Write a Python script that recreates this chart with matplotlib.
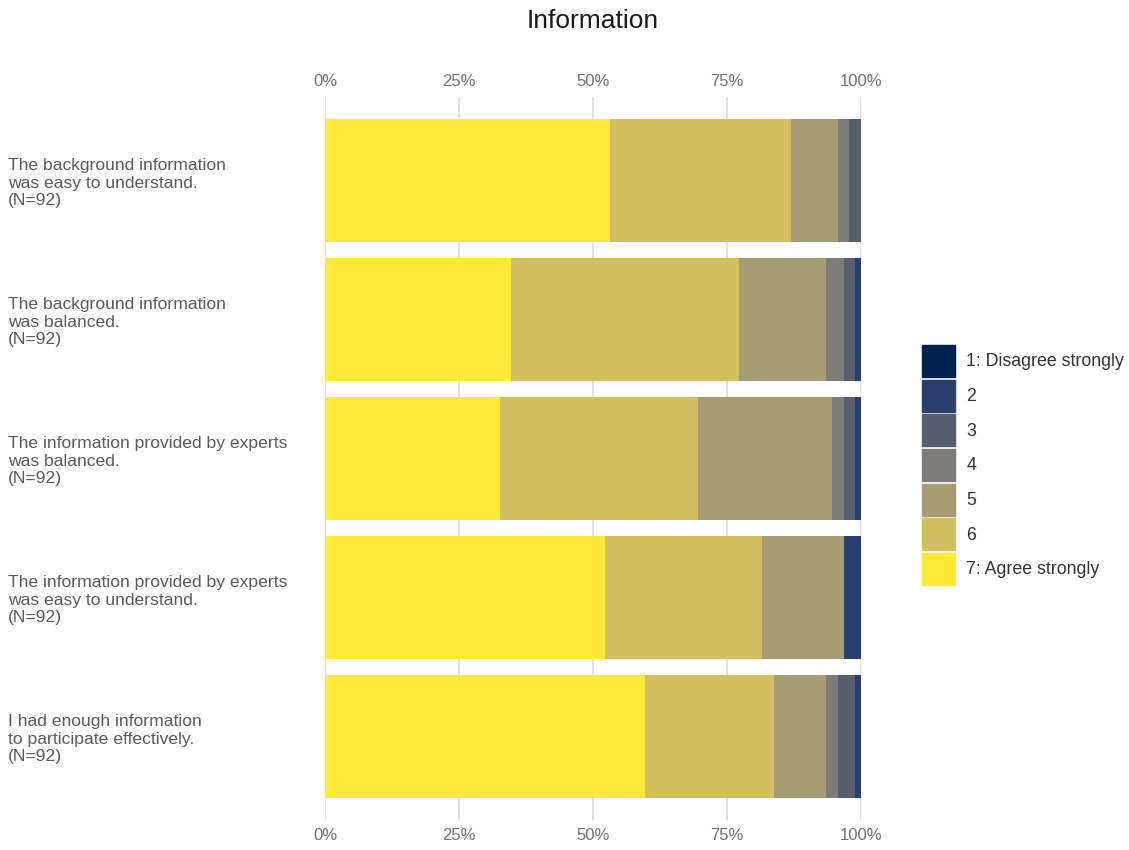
import matplotlib.pyplot as plt
import matplotlib.patches as mpatches
import numpy as np

plt.rcParams['font.family'] = ['Liberation Sans', 'DejaVu Sans']

questions = ["The background information\nwas easy to understand.\n(N=92)",
             "The background information\nwas balanced.\n(N=92)",
             "The information provided by experts\nwas balanced.\n(N=92)",
             "The information provided by experts\nwas easy to understand.\n(N=92)",
             "I had enough information\nto participate effectively.\n(N=92)"]
levels = ["1: Disagree strongly", "2", "3", "4", "5", "6", "7: Agree strongly"]

# counts per answer level, 1 .. 7, for each question
counts = [[0, 0, 2, 2, 8, 31, 49],
          [0, 1, 2, 3, 15, 39, 32],
          [0, 1, 2, 2, 23, 34, 30],
          [0, 3, 0, 0, 14, 27, 48],
          [0, 1, 3, 2, 9, 22, 55]]

ticks = [0, 25, 50, 75, 100]
tick_labels = ["0%", "25%", "50%", "75%", "100%"]

cols = plt.cm.cividis(np.linspace(0, 1, 7))

fig = plt.figure(figsize=(11.29, 8.5), dpi=100)
ax = fig.add_axes([325/1129, 30/850, 536/1129, 723/850])

cnt = np.array(counts, dtype=float)
pct = cnt / cnt.sum(axis=1, keepdims=True) * 100
ypos = np.arange(len(questions))

# stack from "7: Agree strongly" on the left to "1" on the right
left = np.zeros(len(questions))
for k in range(6, -1, -1):
    ax.barh(ypos, pct[:, k], left=left, height=0.885, color=cols[k], linewidth=0)
    left += pct[:, k]

ax.set_xlim(0, 100)
ax.set_ylim(4.6, -0.6)
ax.set_xticks(ticks)
ax.set_xticklabels(tick_labels)
ax.xaxis.grid(True, color='#dcdcdc', linewidth=1.2)
ax.set_axisbelow(True)
ax.tick_params(axis='x', length=0, labeltop=True, labelbottom=True, pad=6,
               labelsize=12, labelcolor='#707070')

ax.set_yticks(ypos)
ax.set_yticklabels(questions, ha='left', fontsize=12.6, color='#5a5a5a', linespacing=1.2)
ax.tick_params(axis='y', length=0, pad=228)
for s in ax.spines.values():
    s.set_visible(False)

fig.text(593/1129, 1 - 21/850, "Information", ha='center', va='center', fontsize=19, color='#1a1a1a')

handles = [mpatches.Patch(color=cols[k], label=levels[k]) for k in range(7)]
fig.legend(handles=handles, loc='upper left', bbox_to_anchor=(922/1129, 1 - 345/850),
           frameon=False, fontsize=12.8, handlelength=1.85, handleheight=2.39,
           labelspacing=0.15, handletextpad=0.65, borderpad=0, borderaxespad=0,
           labelcolor='#333333')

fig.savefig("out.png", dpi=100, facecolor='white')
